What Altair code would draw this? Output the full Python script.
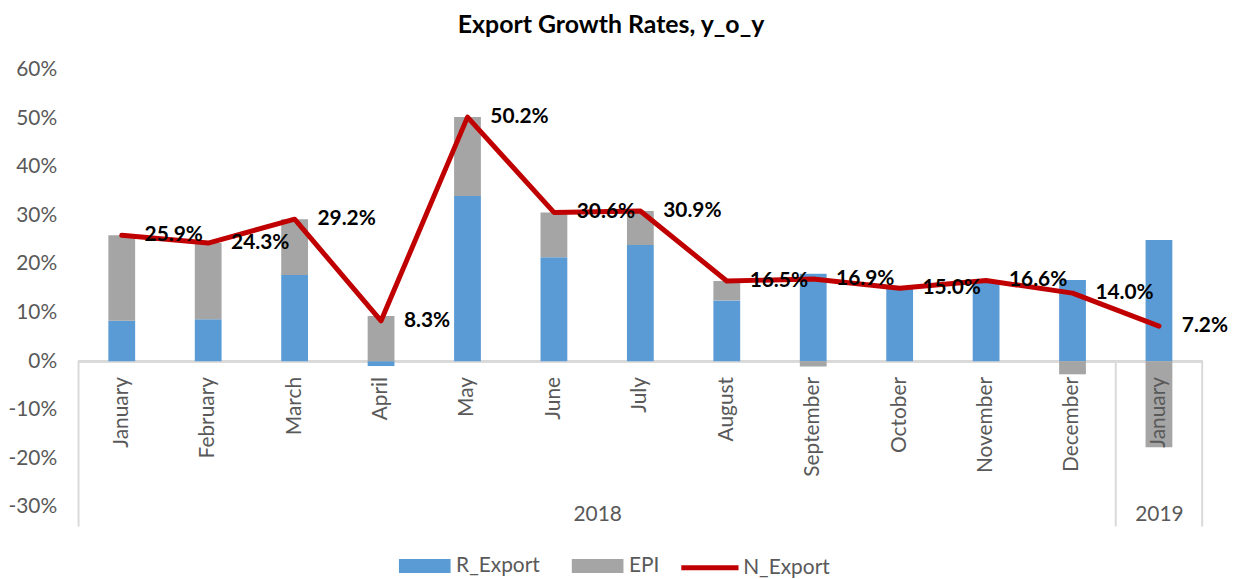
import altair as alt
import pandas as pd

# ---- data ----
months = ["January", "February", "March", "April", "May", "June", "July",
          "August", "September", "October", "November", "December", "January"]
month_years = ["2018"] * 12 + ["2019"]
r_export = [8.3, 8.6, 17.7, -1.0, 34.0, 21.4, 23.9, 12.5, 18.0, 15.0, 16.6, 16.7, 24.9]
epi = [17.6, 15.7, 11.5, 9.3, 16.2, 9.2, 7.0, 4.0, -1.1, 0.0, 0.0, -2.7, -17.7]
n_export = [25.9, 24.3, 29.2, 8.3, 50.2, 30.6, 30.9, 16.5, 16.9, 15.0, 16.6, 14.0, 7.2]
year_names = ["2018", "2019"]
year_counts = [12, 1]
y_ticks = [-0.3, -0.2, -0.1, 0.0, 0.1, 0.2, 0.3, 0.4, 0.5, 0.6]

BLUE, GRAY, RED = "#5B9BD5", "#A5A5A5", "#C00000"
TXT = "#595959"
FONT = "Lato"
FS = 21

periods = [f"{m} {y}" for m, y in zip(months, month_years)]

bars_rows = []
for p, r, e in zip(periods, r_export, epi):
    bars_rows.append({"period": p, "series": "R_Export", "value": r / 100, "ord": 0})
    bars_rows.append({"period": p, "series": "EPI", "value": e / 100, "ord": 1})
bars_df = pd.DataFrame(bars_rows)

line_df = pd.DataFrame({"period": periods, "n": [v / 100 for v in n_export],
                        "s": ["N_Export"] * len(periods)})

# year group boundaries and centres (in month units)
bounds = [0]
for c in year_counts:
    bounds.append(bounds[-1] + c)
centers = [(bounds[i] + bounds[i + 1]) / 2 for i in range(len(year_counts))]
bounds_df = pd.DataFrame({"b": bounds})

label_expr = "''"
for c, name in zip(reversed(centers), reversed(year_names)):
    label_expr = f"datum.value == {c} ? '{name}' : ({label_expr})"

y_min = -0.34
y_scale = alt.Scale(domain=[y_min, 0.6], nice=False, zero=False)
x_band = alt.Scale(domain=periods, paddingInner=0.69, paddingOuter=0.345)

x_axis = alt.Axis(title=None, orient="bottom", labelAngle=270,
                  labelExpr="split(datum.label, ' ')[0]",
                  domain=False, ticks=False, grid=False, zindex=1,
                  labelFontSize=FS, labelColor=TXT, labelFont=FONT,
                  labelPadding=15, offset=-166)
y_axis = alt.Axis(title=None, values=y_ticks, domain=False,
                  labelExpr="replace(format(datum.value, '.0%'), '\u2212', '-')",
                  ticks=False, grid=False, labelFontSize=FS, labelColor=TXT,
                  labelFont=FONT, labelPadding=22)

bars = alt.Chart(bars_df).mark_bar().encode(
    x=alt.X("period:N", sort=periods, scale=x_band, axis=x_axis),
    y=alt.Y("value:Q", scale=y_scale, axis=y_axis, stack="zero"),
    color=alt.Color("series:N",
                    scale=alt.Scale(domain=["R_Export", "EPI"], range=[BLUE, GRAY]),
                    legend=alt.Legend(title=None, orient="none", direction="horizontal",
                                      legendX=332, legendY=483,
                                      symbolType="M-1.6,-0.43H1.6V0.43H-1.6Z",
                                      symbolSize=1056, symbolStrokeWidth=0,
                                      labelFontSize=FS, labelColor=TXT, labelFont=FONT,
                                      columnPadding=31, labelOffset=15)),
    order=alt.Order("ord:Q"),
)

zero = alt.Chart(line_df).mark_rule(color="#D9D9D9", strokeWidth=2).encode(
    y=alt.datum(0.0, scale=y_scale)
)

line = alt.Chart(line_df).mark_line(strokeWidth=5, strokeCap="round",
                                    strokeJoin="round").encode(
    x=alt.X("period:N", sort=periods, scale=x_band),
    y=alt.Y("n:Q", scale=y_scale),
    stroke=alt.Stroke("s:N", scale=alt.Scale(domain=["N_Export"], range=[RED]),
                      legend=alt.Legend(title=None, orient="none", direction="horizontal",
                                        legendX=617, legendY=483,
                                        symbolType="M-1.8,0H1.8", symbolSize=1024,
                                        symbolStrokeWidth=5,
                                        labelFontSize=FS, labelColor=TXT, labelFont=FONT,
                                        labelOffset=15)),
)

labels = alt.Chart(line_df).mark_text(align="left", baseline="middle", dx=23,
                                      fontWeight="bold", fontSize=FS, font=FONT,
                                      color="black").encode(
    x=alt.X("period:N", sort=periods, scale=x_band),
    y=alt.Y("n:Q", scale=y_scale),
    text=alt.Text("n:Q", format=".1%"),
)

main = alt.layer(zero, bars, line, labels)

dividers = alt.Chart(bounds_df).mark_rule(color="#D9D9D9", strokeWidth=2).encode(
    x=alt.X("b:Q", scale=alt.Scale(domain=[bounds[0], bounds[-1]], nice=False, zero=False),
            axis=alt.Axis(title=None, orient="bottom", values=centers, labelExpr=label_expr,
                          domain=False, ticks=False, grid=False, labelFontSize=FS,
                          labelColor=TXT, labelFont=FONT, labelPadding=3, offset=-26)),
    y=alt.datum(0.0, scale=y_scale),
    y2=alt.datum(y_min),
)

chart = alt.layer(dividers, main).resolve_scale(
    x="independent"
).properties(
    width=1131, height=460,
    padding={"left": 0, "top": 3, "right": 0, "bottom": 0},
    title=alt.Title("Export Growth Rates, y_o_y", fontSize=25, fontWeight="bold",
                    font=FONT, color="black", anchor="middle", frame="bounds",
                    offset=21, dx=-7),
).configure_view(stroke=None)

chart.save("out.html", embed_options={"renderer": "svg", "actions": False})
